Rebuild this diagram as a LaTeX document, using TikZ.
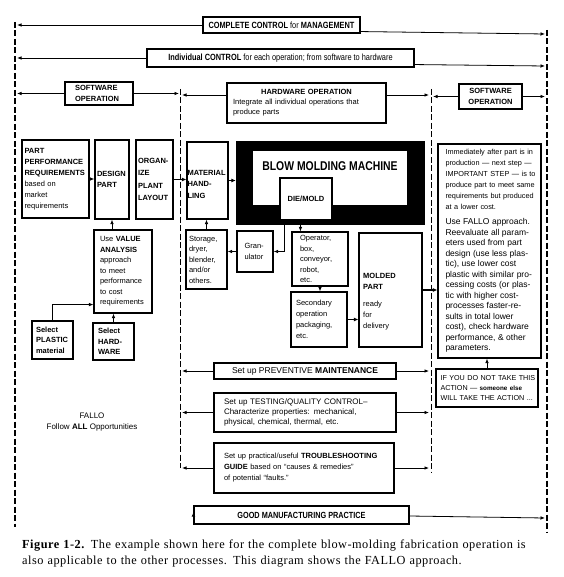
\documentclass[tikz,border=0pt]{standalone}
\usepackage{fontspec}
\setmainfont{Liberation Serif}
\newfontfamily\sa{Liberation Sans}
\newfontfamily\sac[FakeStretch=0.82]{Liberation Sans}
\newfontfamily\capf[LetterSpace=4]{Liberation Serif}
\usetikzlibrary{arrows.meta,calc}
\newcommand\fz[2]{\fontsize{#1}{#2}\selectfont}
\newcommand\JL[1]{\makebox[\linewidth][s]{#1}}
\begin{document}
\begin{tikzpicture}[x=1pt,y=-1pt,
  every node/.style={inner sep=0pt},
  box/.style={draw,line width=1.1pt,fill=white,inner sep=0pt,align=left,font=\sa\fz{7.5}{10.5}},
  arr/.style={line width=0.8pt,-{Latex[length=4.5pt,width=3.6pt]}},
  arrk/.style={line width=1.5pt,-{Latex[length=4.5pt,width=4pt]}},
  dasho/.style={line width=1.8pt,dash pattern=on 6pt off 2.5pt},
  dashi/.style={line width=0.9pt,dash pattern=on 6pt off 2.5pt},
]
\useasboundingbox (0,0) rectangle (563,577);
\fill[white] (0,0) rectangle (563,577);

% dashed frame lines
\coordinate (LOt) at (15,22); \coordinate (LOb) at (15,527);
\coordinate (ROt) at (547,30); \coordinate (ROb) at (547,532);
\coordinate (LIt) at (180,89); \coordinate (LIb) at (180,468);
\coordinate (RIt) at (431,89); \coordinate (RIb) at (431,472);
\draw[dasho] (LOt) -- (LOb);
\draw[dasho] (ROt) -- (ROb);
\draw[dashi] (LIt) -- (LIb);
\draw[dashi] (RIt) -- (RIb);

% tip positions on the dashed lines
\coordinate (Lo) at (17,0); \coordinate (Ro) at (545,0);
\coordinate (Li) at (182,0); \coordinate (Lia) at (179,0);
\coordinate (Ri) at (429,0); \coordinate (Ria) at (433,0);

% top bars
\node[box,font=\sac\bfseries\fz{9}{10},minimum width=157pt,minimum height=16pt] (cc) at (281.5,25) {COMPLETE CONTROL {\mdseries for} MANAGEMENT};
\node[box,font=\sac\fz{9}{10},minimum width=267pt,minimum height=18pt] (ic) at (280.5,58) {\textbf{Individual CONTROL} for each operation; from software to hardware};

% operation headers
\node[box,font=\sa\bfseries\fz{7.5}{11},minimum width=68pt,minimum height=23pt,text width=48pt] (swl) at (99,93.5) {SOFTWARE\\OPERATION};
\node[box,font=\sa\fz{7.5}{10},minimum width=159pt,minimum height=40pt,text width=147pt] (hw) at (306.5,103) {\makebox[\linewidth]{\bfseries HARDWARE OPERATION}\\\JL{Integrate all individual operations that}\\produce parts};
\node[box,font=\sa\bfseries\fz{7.5}{11},align=center,minimum width=63pt,minimum height=25pt] (swr) at (490.5,96.5) {SOFTWARE\\OPERATION};

% left software chain
\node[box,font=\sa\fz{7.5}{11},minimum width=67pt,minimum height=78pt,text width=62pt] (part) at (55.5,179) {\textbf{PART}\\\textbf{PERFORMANCE}\\\textbf{REQUIREMENTS}\\based on\\market\\requirements};
\node[box,font=\sa\bfseries\fz{7.5}{11},minimum width=34pt,minimum height=79pt,text width=30pt] (des) at (112,179.5) {DESIGN\\PART};
\node[box,font=\sa\bfseries\fz{7.5}{12.5},minimum width=37pt,minimum height=79pt,text width=33pt] (org) at (154.5,179.5) {ORGAN-\\IZE\\PLANT\\LAYOUT};
\node[box,font=\sa\bfseries\fz{7.5}{11.5},minimum width=41pt,minimum height=77pt,text width=40pt] (mat) at (207.5,180.5) {\rule{0pt}{12.5pt}MATERIAL\\HAND-\\LING};

\node[box,minimum width=58pt,minimum height=83pt,text width=46pt] (va) at (123,271.5) {Use \textbf{VALUE}\\\textbf{ANALYSIS}\\approach\\to meet\\performance\\to cost\\requirements};
\node[box,font=\sa\bfseries\fz{7.5}{10.5},minimum width=41pt,minimum height=38pt,text width=33pt] (pla) at (52.5,340) {Select\\PLASTIC\\material};
\node[box,font=\sa\bfseries\fz{7.5}{10.5},minimum width=41pt,minimum height=37pt,text width=31pt] (hwb) at (113.5,341.5) {Select\\HARD-\\WARE};
\node[font=\sa\fz{8}{11},align=center] (fallo) at (92,422) {FALLO\\Follow \textbf{ALL} Opportunities};

% blow molding machine
\node[fill=black,minimum width=189pt,minimum height=84pt] (bmm) at (330.5,183) {};
\node[fill=white,minimum width=154pt,minimum height=54pt] (bin) at (330,178) {};
\node[font=\sac\bfseries\fz{12.7}{14}] (bmt) at (330,166) {BLOW MOLDING MACHINE};
\node[box,font=\sa\bfseries\fz{7.5}{10},align=center,minimum width=52pt,minimum height=42pt] (die) at (306,199) {DIE/MOLD};

\node[box,minimum width=41pt,minimum height=59pt,text width=35pt] (sto) at (206.5,259.5) {Storage,\\dryer,\\blender,\\and/or\\others.};
\node[box,minimum width=36pt,minimum height=41pt,text width=21pt] (gra) at (255,251.5) {Gran-\\ulator};
\node[box,minimum width=56pt,minimum height=54pt,text width=40pt] (op) at (320,259) {Operator,\\box,\\conveyor,\\robot,\\etc.};
\node[box,font=\sa\fz{7.5}{11},minimum width=56pt,minimum height=55pt,text width=46pt] (sec) at (319,319.5) {Secondary\\operation\\packaging,\\etc.};
\node[box,minimum width=63pt,minimum height=114pt] (mp) at (390.5,290) {};
\node[anchor=base west,font=\sa\fz{7.5}{11},text width=55pt,align=left] (mpt) at (363,278) {\textbf{MOLDED}\\\textbf{PART}\\[6pt]ready\\for\\delivery};

% right software side
\node[box,minimum width=103pt,minimum height=214pt,text width=88pt] (big) at (489.5,251) {{\fz{7.3}{11}\JL{Immediately after part is in}\\\JL{production — next step —}\\\JL{IMPORTANT STEP — is to}\\\JL{produce part to meet same}\\\JL{requirements but produced}\\at a lower cost.\par}\vspace{4.5pt}{\fz{8.5}{10.5}\JL{Use FALLO approach.}\\\JL{Reevaluate all param-}\\\JL{eters used from part}\\\JL{design (use less plas-}\\\JL{tic), use lower cost}\\\JL{plastic with similar pro-}\\\JL{cessing costs (or plas-}\\\JL{tic with higher cost-}\\\JL{processes faster-re-}\\\JL{sults in total lower}\\\JL{cost), check hardware}\\\JL{performance, \& other}\\parameters.\par}};
\node[box,font=\sa\fz{7.2}{10},minimum width=102pt,minimum height=38pt,text width=93pt] (ifb) at (487,388) {\JL{IF YOU DO NOT TAKE THIS}\\ACTION — {\bfseries\fz{6.3}{10}someone else}\\WILL TAKE THE ACTION ...};

% hardware support boxes
\node[box,font=\sa\fz{8.5}{10},minimum width=182pt,minimum height=16pt] (pm) at (305,371) {Set up PREVENTIVE \textbf{MAINTENANCE}};
\node[box,font=\sa\fz{8}{10},minimum width=182pt,minimum height=39pt,text width=162pt] (tq) at (305,412.5) {Set up TESTING/QUALITY CONTROL–\\Characterize properties: mechanical,\\physical, chemical, thermal, etc.};
\node[box,font=\sa\fz{7.5}{11},minimum width=180pt,minimum height=50pt,text width=160pt] (ts) at (304,468) {Set up practical/useful \textbf{TROUBLESHOOTING}\\\textbf{GUIDE} based on “causes \& remedies”\\of potential “faults.”};
\node[box,font=\sac\bfseries\fz{8.9}{10},minimum width=215pt,minimum height=18pt] (gmp) at (301.5,515) {GOOD MANUFACTURING PRACTICE};

% caption
\node[anchor=base west,font=\capf\fz{12.3}{16},text width=510pt,align=left] (cap) at (22,548) {\JL{\textbf{Figure 1-2.} The example shown here for the complete blow-molding fabrication operation is}\\also applicable to the other processes. This diagram shows the FALLO approach.};

% connectors to frame lines
\draw[arr] (cc.west) -- (cc.west -| Lo);
\coordinate (ccR) at (545,34); \draw[arr] ($(cc.south east)+(0,-2)$) -- (ccR);
\draw[arr] (ic.west) -- (ic.west -| Lo);
\coordinate (icR) at (545,66); \draw[arr] ($(ic.south east)+(0,-3)$) -- (icR);
\draw[arr] (swl.west) -- (swl.west -| Lo);
\draw[arr] (swl.east) -- (swl.east -| Lia);
\coordinate (hwL) at (182,95); \coordinate (hwR) at (429,95);
\draw[arr] (hw.west |- hwL) -- (hwL);
\draw[arr] (hw.east |- hwR) -- (hwR);
\draw[arr] (swr.west) -- (swr.west -| Ria);
\draw[arr] (swr.east) -- (swr.east -| Ro);
\draw[arr] (pm.west) -- (pm.west -| Li);
\draw[arr] (pm.east) -- (pm.east -| Ri);
\draw[arr] (tq.west) -- (tq.west -| Li);
\draw[arr] (tq.east) -- (tq.east -| Ri);
\draw[arr] (ts.west) -- (ts.west -| Li);
\draw[arr] (ts.east) -- (ts.east -| Ri);
\draw[arr] ($(gmp.west)+(0,-3)$) -- ($(gmp.west)+(0,-3)$ -| Lo);
\coordinate (gmR) at (545,518); \draw[arr] ($(gmp.east)+(0,1)$) -- (gmR);

% process connectors
\draw[arr] (part.east) -- (part.east -| des.west);
\draw[arrk] (org.east) -- (org.east -| mat.west);
\draw[arrk] (mat.east) -- (mat.east -| bmm.west);
\draw[arr] (sto.north) -- (sto.north |- mat.south);
\draw[arr] ($(die.south west)+(5,0)$) |- (gra.east);
\draw[arr] (gra.west) -- (gra.west -| sto.east);
\coordinate (dop) at ($(die.south west)+(21,0)$);
\draw[arr] (dop) -- (dop |- op.north);
\draw[arr] (op.south) -- (op.south |- sec.north);
\draw[arrk] (sec.east) -- (sec.east -| mp.west);
\draw[arrk] (mp.east) -- (mp.east -| big.west);
\draw[arr] (ifb.north) -- (ifb.north |- big.south);
\draw[arr] (va.north -| des.south) -- (des.south);
\draw[arr] (hwb.north) -- (hwb.north |- va.south);
\draw[arr] (pla.north) |- ($(va.south west)+(0,-9)$);
\end{tikzpicture}
\end{document}
